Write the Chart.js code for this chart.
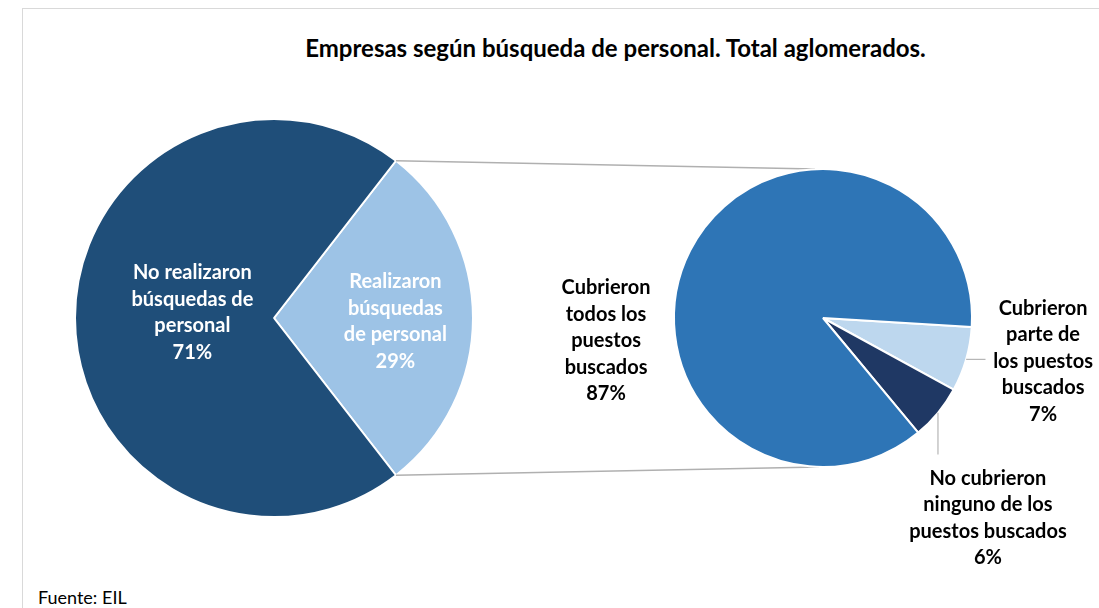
<!DOCTYPE html>
<html><head><meta charset="utf-8">
<script src="https://cdn.jsdelivr.net/npm/chart.js@4.4.1/dist/chart.umd.min.js"></script>
<style>
html,body{margin:0;padding:0;background:#fff;}
#wrap{position:relative;width:1099px;height:608px;overflow:hidden;font-family:Lato,"Open Sans",sans-serif;color:#000;}
canvas{position:absolute;left:0;top:0;}
#frame{position:absolute;left:22px;top:8px;width:1200px;height:700px;border-left:1px solid #d9d9d9;border-top:1px solid #d9d9d9;}
#title{position:absolute;top:33px;left:0;width:1231px;text-align:center;font-weight:bold;font-size:24px;line-height:30px;}
#src{position:absolute;left:38px;top:585px;font-size:18px;line-height:24px;}
</style></head>
<body>
<div id="wrap">
  <div id="frame"></div>
  <div id="title">Empresas según búsqueda de personal. Total aglomerados.</div>
  <div id="src">Fuente: EIL</div>
  <canvas id="c1" width="1099" height="608"></canvas>
  <canvas id="c2" width="1099" height="608"></canvas>
</div>
<script>
// ---- data ----
const mainCategories = ['Realizaron búsquedas de personal', 'No realizaron búsquedas de personal'];
const mainValues = [29, 71];
const mainLabelLines = [['Realizaron', 'búsquedas', 'de personal'], ['No realizaron', 'búsquedas de', 'personal']];

const subCategories = ['Cubrieron parte de los puestos buscados', 'No cubrieron ninguno de los puestos buscados', 'Cubrieron todos los puestos buscados'];
const subValues = [7, 6, 87];
const subLabelLines = [['Cubrieron', 'parte de', 'los puestos', 'buscados'], ['No cubrieron', 'ninguno de los', 'puestos buscados'], ['Cubrieron', 'todos los', 'puestos', 'buscados']];

// ---- styles / placement ----
const mainColors = ['#9DC3E6', '#1F4E79'];
const subColors = ['#BDD7EE', '#1F3864', '#2E75B6'];
const mainLabelPos = [{dx: 0.61, dy: 0.018}, {dx: -0.41, dy: -0.028}];
const subLabelPos = [{dx: 1.477, dy: 0.289}, {dx: 1.107, dy: 1.342}, {dx: -1.456, dy: 0.154}];
const subLeaders = [{dir: 'h', len: 0.13}, {dir: 'v', len: 0.28}, null];
const LABEL_FONT = 'bold 20px Lato, "Open Sans", sans-serif';
const LINE_H = 26.5;

function pctText(vals, i) {
  const t = vals.reduce((a, b) => a + b, 0);
  return Math.round(vals[i] / t * 100) + '%';
}

function drawBlock(ctx, lines, cx, cy, color) {
  ctx.save();
  ctx.font = LABEL_FONT;
  ctx.fillStyle = color;
  ctx.textAlign = 'center';
  ctx.textBaseline = 'middle';
  const y0 = cy - (lines.length - 1) * LINE_H / 2;
  lines.forEach((l, k) => ctx.fillText(l, cx, y0 + k * LINE_H));
  ctx.restore();
}

const labelPlugin1 = {
  id: 'lbl1',
  afterDatasetsDraw(chart) {
    const ctx = chart.ctx;
    chart.getDatasetMeta(0).data.forEach((arc, i) => {
      const r = arc.outerRadius;
      const p = mainLabelPos[i];
      drawBlock(ctx, mainLabelLines[i].concat([pctText(mainValues, i)]), arc.x + p.dx * r, arc.y + p.dy * r, '#ffffff');
    });
  }
};

const chart1 = new Chart(document.getElementById('c1'), {
  type: 'pie',
  data: {labels: mainCategories, datasets: [{data: mainValues, backgroundColor: mainColors, borderColor: '#ffffff', borderWidth: 2}]},
  options: {
    responsive: false, animation: false, events: [],
    rotation: 90 - mainValues[0] / (mainValues[0] + mainValues[1]) * 180,
    layout: {padding: {left: 74, right: 625, top: 118, bottom: 90}},
    plugins: {legend: {display: false}, tooltip: {enabled: false}}
  },
  plugins: [labelPlugin1]
});

const labelPlugin2 = {
  id: 'lbl2',
  beforeDatasetsDraw(chart) {
    // connector lines between the "Realizaron" slice and the secondary pie
    const ctx = chart.ctx;
    const a = chart1.getDatasetMeta(0).data[0];
    const b = chart.getDatasetMeta(0).data[0];
    const r1 = a.outerRadius, r2 = b.outerRadius;
    ctx.save();
    ctx.strokeStyle = '#b0b0b0';
    ctx.lineWidth = 1.5;
    ctx.beginPath();
    ctx.moveTo(a.x + r1 * Math.cos(a.startAngle), a.y + r1 * Math.sin(a.startAngle));
    ctx.lineTo(b.x - 8, b.y - r2);
    ctx.moveTo(a.x + r1 * Math.cos(a.endAngle), a.y + r1 * Math.sin(a.endAngle));
    ctx.lineTo(b.x - 4, b.y + r2);
    ctx.stroke();
    ctx.restore();
  },
  afterDatasetsDraw(chart) {
    const ctx = chart.ctx;
    chart.getDatasetMeta(0).data.forEach((arc, i) => {
      const r = arc.outerRadius;
      const mid = (arc.startAngle + arc.endAngle) / 2;
      const ld = subLeaders[i];
      if (ld) {
        const ex = arc.x + r * Math.cos(mid), ey = arc.y + r * Math.sin(mid);
        ctx.save();
        ctx.strokeStyle = '#a6a6a6';
        ctx.lineWidth = 1;
        ctx.beginPath();
        ctx.moveTo(ex, ey);
        if (ld.dir === 'h') ctx.lineTo(ex + ld.len * r, ey); else ctx.lineTo(ex, ey + ld.len * r);
        ctx.stroke();
        ctx.restore();
      }
      const p = subLabelPos[i];
      drawBlock(ctx, subLabelLines[i].concat([pctText(subValues, i)]), arc.x + p.dx * r, arc.y + p.dy * r, '#000000');
    });
  }
};

const chart2 = new Chart(document.getElementById('c2'), {
  type: 'pie',
  data: {labels: subCategories, datasets: [{data: subValues, backgroundColor: subColors, borderColor: '#ffffff', borderWidth: 2}]},
  options: {
    responsive: false, animation: false, events: [],
    rotation: 93.5,
    layout: {padding: {left: 673, right: 126, top: 168, bottom: 140}},
    plugins: {legend: {display: false}, tooltip: {enabled: false}}
  },
  plugins: [labelPlugin2]
});
</script>
</body></html>
